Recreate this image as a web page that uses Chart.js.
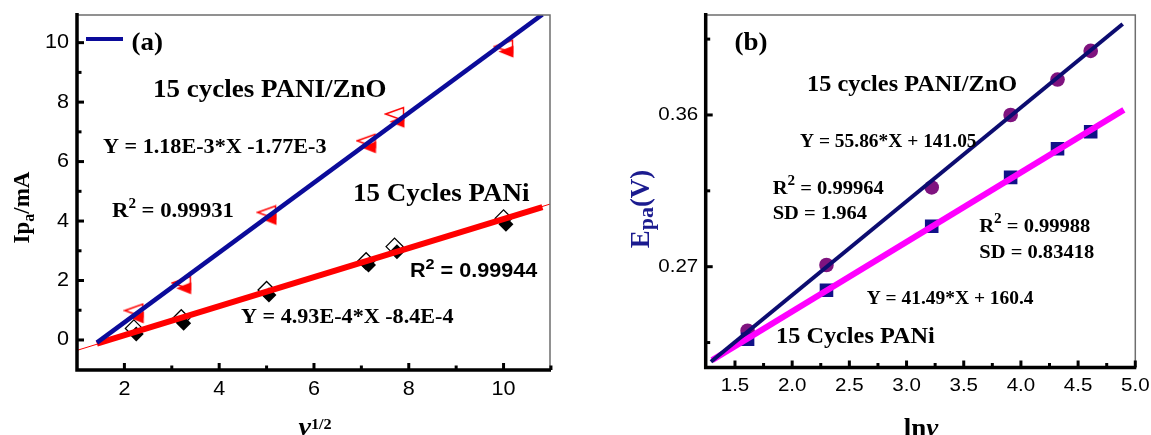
<!DOCTYPE html>
<html>
<head>
<meta charset="utf-8">
<script src="https://cdn.jsdelivr.net/npm/chart.js@4.4.1/dist/chart.umd.min.js"></script>
<style>
html, body { margin: 0; padding: 0; background: #fff; }
#wrap { position: relative; width: 1151px; height: 435px; overflow: hidden; }
canvas { position: absolute; top: 0; }
#ca { left: 0; }
#cb { left: 575px; }
</style>
</head>
<body>
<div id="wrap">
  <canvas id="ca" width="575" height="435"></canvas>
  <canvas id="cb" width="576" height="435"></canvas>
</div>
<script>
// ---- panel (a): Ipa vs v^1/2 ----
const sqrtRate = [2.2, 3.2, 5.0, 7.1, 7.7, 10.0];
const sqrtRateFilled = [2.25, 3.25, 5.05, 7.15, 7.75, 10.05];
const znoOpen = [0.99, 1.92, 4.29, 6.70, 7.60, 9.87];
const znoFilled = [0.76, 1.74, 4.07, 6.48, 7.34, 9.70];
const paniOpen = [0.39, 0.73, 1.68, 2.65, 3.14, 4.09];
const paniFilled = [0.20, 0.56, 1.51, 2.52, 2.97, 3.89];
const fitZnoA = [[1.42, -0.09], [10.82, 10.95]];
const fitPaniA = [[1.42, -0.12], [10.82, 4.47]];
const fitPaniThinA = [[1.0, -0.35], [11.0, 4.58]];
const xTicksA = [2, 4, 6, 8, 10];
const xLabelsA = ['2', '4', '6', '8', '10'];
const xMinorA = [3, 5, 7, 9, 11];
const yTicksA = [0, 2, 4, 6, 8, 10];
const yLabelsA = ['0', '2', '4', '6', '8', '10'];
const yMinorA = [1, 3, 5, 7, 9];

// ---- panel (b): Epa vs ln v ----
const lnRate = [1.61, 2.30, 3.22, 3.91, 4.32, 4.61];
const epaZno = [0.232, 0.271, 0.317, 0.360, 0.381, 0.398];
const epaPani = [0.227, 0.256, 0.294, 0.323, 0.340, 0.350];
const fitZnoB = [[1.29, 0.2136], [4.89, 0.414]];
const fitPaniB = [[1.30, 0.2146], [4.90, 0.363]];
const xTicksB = [1.5, 2.0, 2.5, 3.0, 3.5, 4.0, 4.5, 5.0];
const xLabelsB = ['1.5', '2.0', '2.5', '3.0', '3.5', '4.0', '4.5', '5.0'];
const xMinorB = [1.75, 2.25, 2.75, 3.25, 3.75, 4.25, 4.75];
const yTicksB = [0.27, 0.36];
const yLabelsB = ['0.27', '0.36'];
const yMinorB = [0.225, 0.315, 0.405];

const SERIF = "'Liberation Serif','Times New Roman',serif";
const SANS = "'Liberation Sans',Arial,sans-serif";
const B = s => `bold ${s}px ${SERIF}`;
const SX = 1.08; // the source figure is slightly stretched sideways

const pairs = arr => arr.map(p => ({ x: p[0], y: p[1] }));
const zip = (xs, ys) => xs.map((x, i) => ({ x, y: ys[i] }));

function triangle(w, h, fill, stroke) {
    const c = document.createElement('canvas');
    c.width = w + 3; c.height = h + 3;
    const g = c.getContext('2d');
    g.beginPath();
    g.moveTo(1.5, 1.5 + h / 2); g.lineTo(1.5 + w, 1.5); g.lineTo(1.5 + w, 1.5 + h); g.closePath();
    g.fillStyle = fill; g.fill();
    if (stroke) { g.strokeStyle = stroke; g.lineWidth = 1.4; g.stroke(); }
    return c;
}

// text with optional sub/superscript pieces: parts = [[text, font, dy], ...]
function rich(ctx, parts, x, y, opt = {}) {
    ctx.save();
    ctx.translate(x, y);
    if (opt.rot) ctx.rotate(opt.rot);
    ctx.scale(opt.sx ?? SX, 1);
    ctx.fillStyle = opt.color || '#000';
    ctx.textBaseline = opt.base || 'alphabetic';
    ctx.textAlign = 'left';
    let w = 0;
    parts.forEach(p => { ctx.font = p[1]; w += ctx.measureText(p[0]).width; });
    let cx = opt.align === 'center' ? -w / 2 : opt.align === 'right' ? -w : 0;
    parts.forEach(p => {
        ctx.font = p[1];
        ctx.fillText(p[0], cx, p[2] || 0);
        cx += ctx.measureText(p[0]).width;
    });
    ctx.restore();
}

function drawAxes(chart, t) {
    const { ctx, chartArea: a, scales: { x, y } } = chart;
    const seg = (x1, y1, x2, y2) => { ctx.beginPath(); ctx.moveTo(x1, y1); ctx.lineTo(x2, y2); ctx.stroke(); };
    ctx.save();
    ctx.strokeStyle = '#6e6e6e'; ctx.lineWidth = 1.5;
    ctx.beginPath(); ctx.moveTo(a.left, a.top); ctx.lineTo(a.right, a.top); ctx.lineTo(a.right, a.bottom); ctx.stroke();
    ctx.strokeStyle = '#000'; ctx.lineWidth = 3;
    t.xMajor.forEach(v => { const p = x.getPixelForValue(v); seg(p, a.bottom, p, a.bottom - 7); });
    t.xMinor.forEach(v => { const p = x.getPixelForValue(v); seg(p, a.bottom, p, a.bottom - 4.5); });
    t.yMajor.forEach(v => { const p = y.getPixelForValue(v); seg(a.left, p, a.left + 7, p); });
    t.yMinor.forEach(v => { const p = y.getPixelForValue(v); seg(a.left, p, a.left + 4.5, p); });
    ctx.lineWidth = 3.5;
    ctx.beginPath(); ctx.moveTo(a.left, a.top - 2); ctx.lineTo(a.left, a.bottom); ctx.lineTo(a.right + 1, a.bottom); ctx.stroke();
    ctx.restore();
}

const BLUE = '#0b0b9a';
const NAVY = '#0c0c70';

const decorA = {
    id: 'decorA',
    afterDatasetsDraw(chart) {
        drawAxes(chart, { xMajor: xTicksA, xMinor: xMinorA, yMajor: yTicksA, yMinor: yMinorA });
    },
    afterDraw(chart) {
        const { ctx, chartArea: a, scales: { x, y } } = chart;
        xTicksA.forEach((v, i) => rich(ctx, [[xLabelsA[i], `20px ${SANS}`]], x.getPixelForValue(v), 389, { align: 'center', base: 'middle' }));
        yTicksA.forEach((v, i) => rich(ctx, [[yLabelsA[i], `20px ${SANS}`]], a.left - 8, y.getPixelForValue(v), { align: 'right', base: 'middle' }));

        // legend sample
        ctx.save();
        ctx.strokeStyle = BLUE; ctx.lineWidth = 4;
        ctx.beginPath(); ctx.moveTo(86, 39); ctx.lineTo(123, 39); ctx.stroke();
        ctx.restore();
        rich(ctx, [['(a)', B(25)]], 131.5, 50);

        rich(ctx, [['15 cycles PANI/ZnO', B(25)]], 153, 97);
        rich(ctx, [['Y = 1.18E-3*X -1.77E-3', B(20.5)]], 103, 153);
        rich(ctx, [['R', B(21)], ['2', B(14), -9], [' = 0.99931', B(21)]], 112, 217);
        rich(ctx, [['15 Cycles PANi', B(25)]], 353, 201);
        rich(ctx, [['R', `bold 20px ${SANS}`], ['2', `bold 15px ${SANS}`, -8], [' = 0.99944', `bold 20px ${SANS}`]], 410, 277);
        rich(ctx, [['Y = 4.93E-4*X -8.4E-4', B(20.5)]], 241, 323);

        rich(ctx, [['Ip', B(23)], ['a', B(16), 5], ['/mA', B(23)]], 29, 207.5, { rot: -Math.PI / 2, align: 'center', sx: 1 });
        rich(ctx, [['ν', `bold italic 26px ${SERIF}`], ['1/2', B(15), -6]], 315, 435, { align: 'center' });
    }
};

const decorB = {
    id: 'decorB',
    afterDatasetsDraw(chart) {
        drawAxes(chart, { xMajor: xTicksB, xMinor: xMinorB, yMajor: yTicksB, yMinor: yMinorB });
    },
    afterDraw(chart) {
        const { ctx, chartArea: a, scales: { x, y } } = chart;
        xTicksB.forEach((v, i) => rich(ctx, [[xLabelsB[i], `19px ${SANS}`]], x.getPixelForValue(v), 385.5, { align: 'center', base: 'middle' }));
        yTicksB.forEach((v, i) => rich(ctx, [[yLabelsB[i], `19px ${SANS}`]], a.left - 7.5, y.getPixelForValue(v), { align: 'right', base: 'middle' }));

        rich(ctx, [['(b)', B(25)]], 159.5, 50);
        rich(ctx, [['15 cycles PANI/ZnO', B(22.5)]], 232, 90.7);
        rich(ctx, [['Y = 55.86*X + 141.05', B(18)]], 225, 146.7);
        rich(ctx, [['R', B(19)], ['2', B(14), -9], [' = 0.99964', B(19)]], 197.7, 194.3);
        rich(ctx, [['SD = 1.964', B(19)]], 197.7, 219.3);
        rich(ctx, [['R', B(19)], ['2', B(14), -9], [' = 0.99988', B(19)]], 404.3, 231.7);
        rich(ctx, [['SD = 0.83418', B(19)]], 404.3, 258.3);
        rich(ctx, [['Y = 41.49*X + 160.4', B(18)]], 291.7, 304);
        rich(ctx, [['15 Cycles PANi', B(22.5)]], 201, 343.3);

        rich(ctx, [['E', B(27)], ['pa', B(22), 4], ['(V)', B(27)]], 74, 209, { rot: -Math.PI / 2, align: 'center', sx: 1, color: '#1b1b8f' });
        rich(ctx, [['ln', B(25)], ['ν', `bold italic 25px ${SERIF}`]], 346, 435.5, { align: 'center' });
    }
};

const common = {
    responsive: false,
    animation: false,
    events: [],
    plugins: { legend: { display: false }, tooltip: { enabled: false } }
};

new Chart(document.getElementById('ca'), {
    type: 'scatter',
    data: {
        datasets: [
            { data: pairs(fitZnoA), showLine: true, borderColor: BLUE, borderWidth: 4.5, pointRadius: 0, order: 0 },
            { data: pairs(fitPaniA), showLine: true, borderColor: '#ff0000', borderWidth: 6, pointRadius: 0, order: 1 },
            { data: pairs(fitPaniThinA), showLine: true, borderColor: '#ff0000', borderWidth: 1, pointRadius: 0, order: 2 },
            { data: zip(sqrtRateFilled, znoFilled), pointStyle: triangle(15, 12, '#ff0000'), pointRadius: 7, order: 3 },
            { data: zip(sqrtRate, znoOpen), pointStyle: triangle(18, 13, '#ffffff', '#ff0000'), pointRadius: 8, order: 4 },
            { data: zip(sqrtRateFilled, paniFilled), pointStyle: 'rectRot', pointRadius: 7.5, backgroundColor: '#000', borderColor: '#000', borderWidth: 0, order: 5 },
            { data: zip(sqrtRate, paniOpen), pointStyle: 'rectRot', pointRadius: 8.5, backgroundColor: '#fff', borderColor: '#000', borderWidth: 1.3, order: 6 }
        ]
    },
    options: {
        ...common,
        layout: { padding: { left: 77, top: 15, right: 25, bottom: 65 } },
        scales: {
            x: { type: 'linear', min: 1, max: 10.98, display: false },
            y: { type: 'linear', min: -1.01, max: 10.93, display: false }
        }
    },
    plugins: [decorA]
});

new Chart(document.getElementById('cb'), {
    type: 'scatter',
    data: {
        datasets: [
            { data: pairs(fitZnoB), showLine: true, borderColor: NAVY, borderWidth: 4, pointRadius: 0, order: 0 },
            { data: pairs(fitPaniB), showLine: true, borderColor: '#ff00ff', borderWidth: 6, pointRadius: 0, order: 1 },
            { data: zip(lnRate, epaPani), pointStyle: 'rect', pointRadius: 9.6, backgroundColor: '#111188', borderWidth: 0, order: 2 },
            { data: zip(lnRate, epaZno), pointStyle: 'circle', pointRadius: 7.3, backgroundColor: '#7f137f', borderWidth: 0, order: 3 }
        ]
    },
    options: {
        ...common,
        layout: { padding: { left: 130.7, top: 15, right: 15.7, bottom: 67.5 } },
        scales: {
            x: { type: 'linear', min: 1.244, max: 5.0, display: false },
            y: { type: 'linear', min: 0.2102, max: 0.4193, display: false }
        }
    },
    plugins: [decorB]
});
</script>
</body>
</html>
